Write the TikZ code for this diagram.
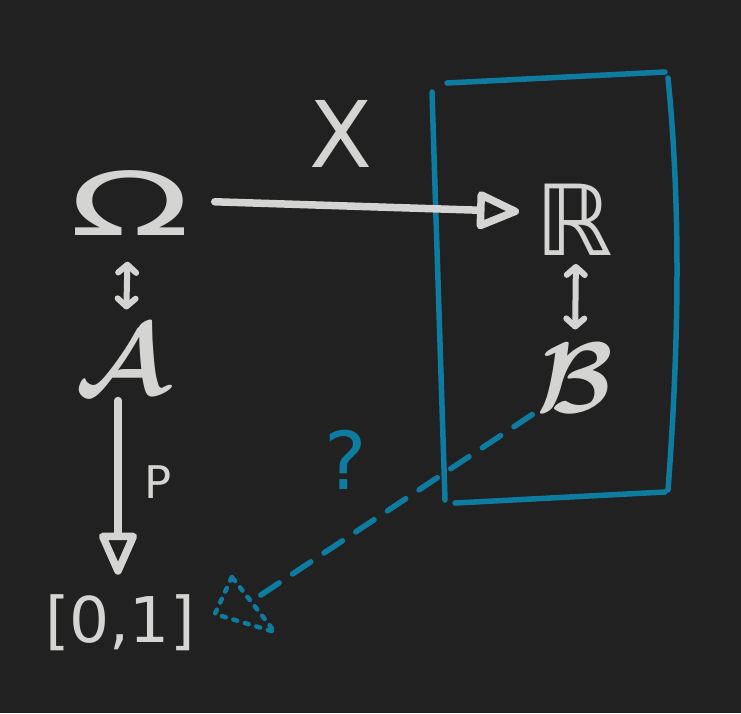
\documentclass[tikz,border=0pt]{standalone}
\usepackage{amssymb}
\usepackage{bm}
\usepackage{fontspec}
\setmainfont{DejaVu Sans}
\usetikzlibrary{arrows.meta}
\definecolor{bg}{RGB}{33,33,33}
\definecolor{ink}{RGB}{212,212,210}
\definecolor{sky}{RGB}{14,124,160}
\begin{document}
\begin{tikzpicture}[x=1pt,y=-1pt,
  lbl/.style={text=ink, inner sep=0pt},
  arr/.style={draw=ink, line width=7.5pt, line cap=round, line join=round,
    -{Triangle[open,length=48pt 0,width=40pt 0,round]}},
  dbl/.style={draw=ink, line width=6pt, line cap=round, line join=round,
    {Straight Barb[length=8pt 0,width=18pt 0,round]}-{Straight Barb[length=8pt 0,width=18pt 0,round]}},
  boxline/.style={draw=sky, line width=5.5pt, line cap=round},
  bdash/.style={draw=sky, line width=5.5pt, line cap=round, dash pattern=on 22pt off 16pt},
  bdot/.style={draw=sky, line width=4.5pt, line cap=round, line join=round, dash pattern=on 4pt off 8pt},
]
\fill[bg] (0,0) rectangle (741,713);
\useasboundingbox (0,0) rectangle (741,713);

% labels
\node[lbl, font=\fontsize{88}{88}\selectfont] (om) at (130,203) {\scalebox{1.8}[1]{Ω}};
\node[lbl, font=\fontsize{92}{92}\selectfont] (X) at (341,134) {X};
\node[lbl, font=\fontsize{98}{98}\selectfont] (R) at (574,220) {ℝ};
\node[lbl] (B) at (575,378) {\scalebox{10}{$\bm{\mathcal{B}}$}};
\node[lbl] (A) at (122,360) {\scalebox{10}{$\bm{\mathcal{A}}$}};
\node[lbl, font=\fontsize{63}{63}\selectfont] (I) at (120,623) {[0,1]};
\node[lbl, font=\fontsize{45}{45}\selectfont] (P) at (158,482) {P};
\node[text=sky, inner sep=0pt, font=\fontsize{80}{80}\selectfont] (q) at (346,460) {?};

% blue box
\draw[boxline] (432,92) -- (445,500);
\draw[boxline] (447,83) -- (665,72);
\draw[boxline] (668,78) .. controls (680,200) and (680,330) .. (668,490);
\draw[boxline] (455,503) -- (665,492);

% arrows
\draw[arr, shorten <=24pt, shorten >=16pt] ([yshift=2pt]om.east) -- ([yshift=8pt]R.west);
\draw[arr, shorten <=6pt, shorten >=20pt] ([xshift=-4pt]A.south) -- ([xshift=-2pt]I.north);
\draw[dbl, shorten <=26pt, shorten >=16pt] ([xshift=-2pt]om.south) -- ([xshift=4pt]A.north);
\draw[dbl, shorten <=8pt, shorten >=14pt] ([xshift=2pt]R.south) -- (B.north);

% dashed blue connector
\coordinate (b1) at ([xshift=60pt,yshift=24pt]I.east);
\draw[bdash] ([xshift=-4pt,yshift=-2pt]B.south west) -- (b1);
\draw[bdot] (b1) ++(-23,-22) -- ++(-17,37) -- ++(60,18) -- cycle;
\end{tikzpicture}
\end{document}
